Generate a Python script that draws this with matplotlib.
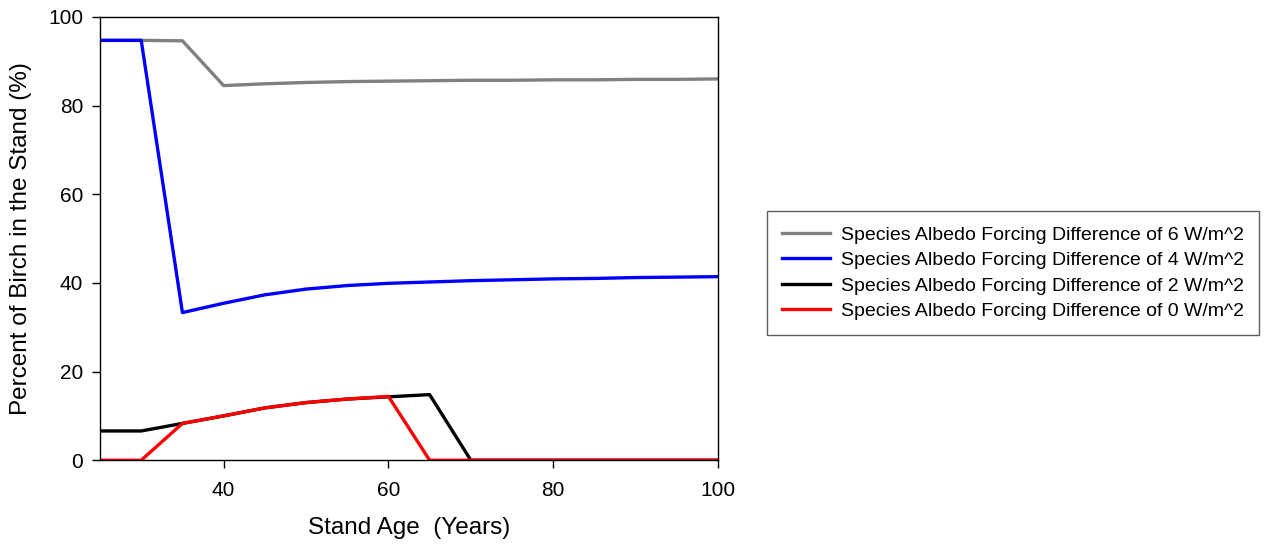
import matplotlib
matplotlib.use('Agg')
import matplotlib.pyplot as plt

plt.rcParams['font.family'] = ['Liberation Sans', 'DejaVu Sans']

ages = [25, 30, 35, 40, 45, 50, 55, 60, 65, 70, 75, 80, 85, 90, 95, 100]

diff_6 = [94.7, 94.7, 94.6, 84.5, 84.9, 85.2, 85.4, 85.5, 85.6, 85.7, 85.7, 85.8, 85.8, 85.9, 85.9, 86.0]
diff_4 = [94.7, 94.7, 33.3, 35.4, 37.3, 38.6, 39.4, 39.9, 40.2, 40.5, 40.7, 40.9, 41.0, 41.2, 41.3, 41.4]
diff_2 = [6.6, 6.6, 8.3, 10.0, 11.8, 13.0, 13.8, 14.3, 14.8, 0, 0, 0, 0, 0, 0, 0]
diff_0 = [0, 0, 8.3, 10.0, 11.8, 13.0, 13.8, 14.4, 0, 0, 0, 0, 0, 0, 0, 0]

labels = [
    'Species Albedo Forcing Difference of 6 W/m^2',
    'Species Albedo Forcing Difference of 4 W/m^2',
    'Species Albedo Forcing Difference of 2 W/m^2',
    'Species Albedo Forcing Difference of 0 W/m^2',
]
colors = ['#808080', '#0000ff', '#000000', '#ff0000']

fig = plt.figure(figsize=(12.84, 5.44), dpi=100)
ax = fig.add_axes([0.0779, 0.154, 0.4813, 0.815])

for ys, lab, col in zip([diff_6, diff_4, diff_2, diff_0], labels, colors):
    ax.plot(ages, ys, color=col, lw=2.4, label=lab)

ax.set_xlim(25, 100)
ax.set_ylim(0, 100)
ax.set_xticks([40, 60, 80, 100])
ax.set_yticks([0, 20, 40, 60, 80, 100])
ax.tick_params(direction='out', length=6, labelsize=15, width=1)
ax.tick_params(axis='x', pad=9)
ax.tick_params(axis='y', pad=6)
for s in ax.spines.values():
    s.set_linewidth(1)
ax.set_xlabel('Stand Age  (Years)', fontsize=17.5, labelpad=12)
ax.set_ylabel('Percent of Birch in the Stand (%)', fontsize=17.5, labelpad=12)

leg = fig.legend(loc='center left', bbox_to_anchor=(0.5973, 0.498), fontsize=14,
                 frameon=True, fancybox=False, edgecolor='#333333',
                 handlelength=2.5, handletextpad=0.55, borderpad=0.75,
                 labelspacing=0.41, borderaxespad=0)
leg.get_frame().set_linewidth(1)

fig.savefig('out.png', dpi=100)
